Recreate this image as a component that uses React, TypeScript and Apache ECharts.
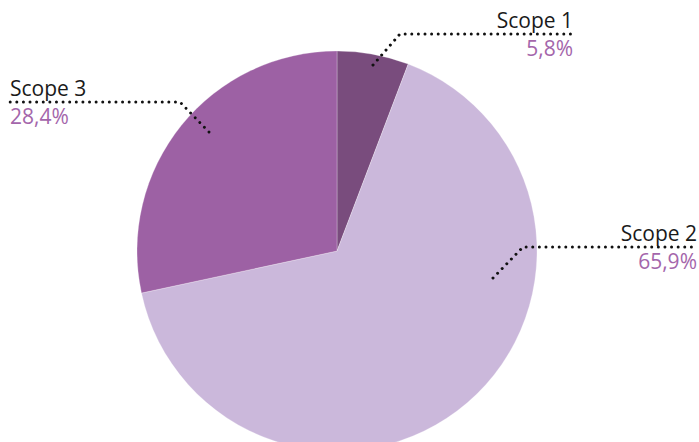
import React, { useEffect, useRef } from "react";
import * as echarts from "echarts";

const categories = ["Scope 1", "Scope 2", "Scope 3"];
const values = [5.8, 65.9, 28.4];
const colors = ["#794c7d", "#cbb8db", "#9d61a4"];

// leader-line layout (pixels): start inside slice, bend, end
const leaders = [
  { start: [373, 65], bend: [400, 34], end: [573, 34], align: "right" },
  { start: [493, 278], bend: [523, 247], end: [697, 247], align: "right" },
  { start: [209, 132], bend: [180, 102], end: [10, 102], align: "left" },
];

const fmtPct = (v: number) => v.toFixed(1).replace(".", ",") + "%";

export default function App() {
  const ref = useRef<HTMLDivElement>(null);
  useEffect(() => {
    document.body.style.margin = "0";
    const chart = echarts.init(ref.current!, null, { renderer: "svg" });
    const data = categories.map((c, i) => ({
      name: c,
      value: values[i],
      itemStyle: { color: colors[i] },
    }));
    const common = {
      type: "pie",
      center: [337, 251],
      radius: 200,
      startAngle: 90,
      clockwise: true,
    };
    chart.setOption({
      animation: false,
      backgroundColor: "#ffffff",
      series: [
        {
          ...common,
          z: 2,
          data,
          itemStyle: { borderColor: "rgba(255,255,255,0.45)", borderWidth: 0.6 },
          label: { show: false },
          labelLine: { show: false },
          silent: true,
        },
        {
          ...common,
          z: 5,
          data: data.map((d) => ({ ...d, itemStyle: { color: "rgba(0,0,0,0)" } })),
          silent: true,
          label: {
            show: true,
            position: "outside",
            formatter: (p: any) => `{n|${p.name}}\n{p|${fmtPct(p.value)}}`,
            rich: {
              n: {
                fontFamily: "Open Sans",
                fontSize: 21,
                lineHeight: 28,
                color: "#1a1a1a",
              },
              p: {
                fontFamily: "Open Sans",
                fontSize: 21,
                lineHeight: 28,
                color: "#a466ab",
              },
            },
          },
          labelLine: {
            show: true,
            smooth: false,
            lineStyle: {
              color: "#111111",
              width: 3,
              type: [0.01, 6.6],
              cap: "round",
            },
          },
          labelLayout: (params: any) => {
            const l = leaders[params.dataIndex];
            return {
              x: l.end[0],
              y: l.end[1],
              align: l.align,
              verticalAlign: "middle",
              labelLinePoints: [l.start, l.bend, l.end],
            };
          },
        },
      ],
    });
    return () => chart.dispose();
  }, []);
  return <div ref={ref} style={{ width: 699, height: 442 }} />;
}
